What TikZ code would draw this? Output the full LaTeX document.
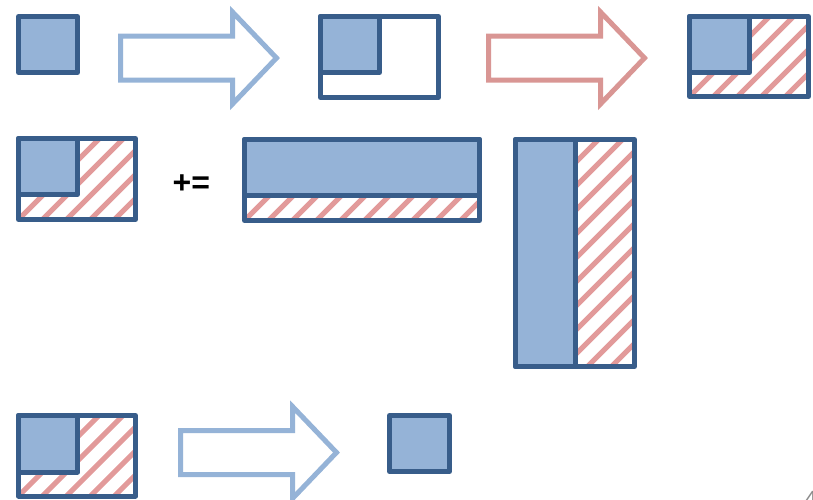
\documentclass[tikz,border=0pt]{standalone}
\usepackage{fontspec}
\setmainfont{Liberation Sans}
\usetikzlibrary{positioning}
\definecolor{tileBorder}{RGB}{56,93,138}
\definecolor{tileBlue}{RGB}{149,179,215}
\definecolor{tileRed}{RGB}{217,150,148}
\definecolor{hatchRed}{RGB}{226,154,154}
\definecolor{pageGray}{RGB}{140,140,140}

% diagonal red hatching inside a rectangle
\newcommand{\hatcharea}[4]{%
  \begin{scope}
    \clip (#1,#2) rectangle (#3,#4);
    \foreach \hx in {0,24,...,480}
      \draw[hatch] (#1-240+\hx,#4) -- ++(250,-250);
  \end{scope}}

\begin{document}
\begin{tikzpicture}[
  x=1pt,y=-1pt,
  tile/.style={draw=tileBorder,line width=5pt,line join=round},
  bluetile/.style={tile,fill=tileBlue},
  hatch/.style={hatchRed,line width=5pt},
  fatarrow/.pic={
    \path[pic actions,line width=5pt,line join=miter,fill=white]
      (0,-22) -- (112,-22) -- (112,-46) -- (156,0) -- (112,46) -- (112,22) -- (0,22) -- cycle;
  }
]
  \clip (0,0) rectangle (813,499);

  % row 1
  \draw[bluetile] (18.5,16.5) rectangle (77.5,72.5);
  \pic[draw=tileBlue] at (120.5,58) {fatarrow};
  \draw[tile] (320.5,16.5) rectangle (438.5,97.5);
  \draw[bluetile] (320.5,16.5) rectangle (379.5,72.5);
  \pic[draw=tileRed] at (488.5,58) {fatarrow};
  \hatcharea{689.5}{16.5}{808.5}{96.5}
  \draw[bluetile] (689.5,16.5) rectangle (749.5,72.5);
  \draw[tile] (689.5,16.5) rectangle (808.5,96.5);

  % row 2
  \hatcharea{18.5}{138.5}{135.5}{219.5}
  \draw[bluetile] (18.5,138.5) rectangle (77.5,194.5);
  \draw[tile] (18.5,138.5) rectangle (135.5,219.5);
  \node[font=\bfseries\fontsize{32}{36}\selectfont,anchor=base west,inner sep=0pt] (plusEq) at (172.5,193) {+=};
  \hatcharea{244.5}{139.5}{479.5}{220.5}
  \draw[bluetile] (244.5,139.5) rectangle (479.5,195);
  \draw[tile] (244.5,139.5) rectangle (479.5,220.5);
  \hatcharea{515.5}{139.5}{634.5}{366.5}
  \draw[bluetile] (515.5,139.5) rectangle (575,366.5);
  \draw[tile] (515.5,139.5) rectangle (634.5,366.5);

  % row 3
  \hatcharea{18.5}{415.5}{135.5}{496}
  \draw[bluetile] (18.5,415.5) rectangle (77.5,472);
  \draw[tile] (18.5,415.5) rectangle (135.5,496);
  \pic[draw=tileBlue] at (180.5,452.5) {fatarrow};
  \draw[bluetile] (389.5,415.5) rectangle (449.5,471.5);

  \node[font=\fontsize{22}{26}\selectfont,text=pageGray,anchor=base west,inner sep=0pt] (pageNum) at (804.5,506) {4};
\end{tikzpicture}
\end{document}
